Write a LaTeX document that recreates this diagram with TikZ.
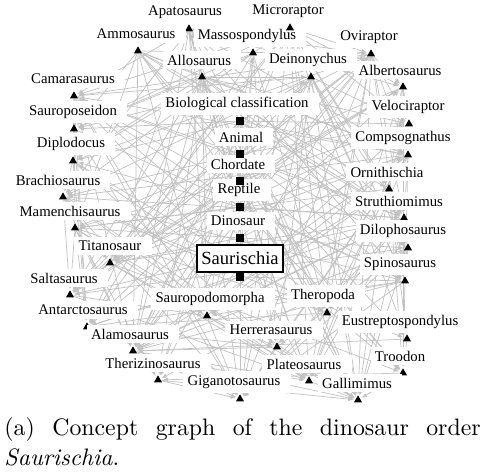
\documentclass[tikz,border=0pt]{standalone}
\usepackage{fontspec}
\newfontfamily\graphfont{Liberation Serif}
\usetikzlibrary{shapes.geometric, arrows.meta, backgrounds}

\tikzset{
  concept/.style={rectangle, fill=black, inner sep=0pt, minimum size=3.2pt},
  species/.style={regular polygon, regular polygon sides=3, fill=black, inner sep=0pt, minimum size=3.9pt},
  link/.style={draw=black!24, line width=0.3pt, shorten >=0.6pt, -{Latex[length=2.2pt,width=1.8pt]}},
  tag/.style={fill=white, inner xsep=1.8pt, inner ysep=1.7pt, font=\graphfont\fontsize{6.2}{7}\selectfont},
  rootbox/.style={tag, draw=black, line width=0.5pt, font=\graphfont\fontsize{7.8}{9}\selectfont, minimum width=36pt, minimum height=11.3pt}
}

% index/label/marker x/marker y/label x (pixel grid, y downwards)
\def\conceptlist{1/Biological classification/240/121/237, 2/Animal/240/154/241,
  3/Chordate/240/181/238, 4/Reptile/240/207/239, 5/Dinosaur/240/238/238,
  6/Saurischia/240/277/240, 7/Apatosaurus/189/29/185, 8/Massospondylus/253/53/247,
  9/Ammosaurus/138/51/136, 10/Microraptor/290/28/288, 11/Oviraptor/371/54/369,
  12/Allosaurus/202/77/199, 13/Deinonychus/311/77/308, 14/Albertosaurus/403/87/400,
  15/Camarasaurus/74/96/73, 16/Velociraptor/409/124/408, 17/Sauroposeidon/74/129/73,
  18/Compsognathus/408/155/403, 19/Diplodocus/73/161/71, 20/Ornithischia/389/189/387,
  21/Brachiosaurus/63/197/58, 22/Struthiomimus/404/218/399, 23/Mamenchisaurus/75/228/70,
  24/Dilophosaurus/408/248/403, 25/Titanosaur/110/263/110, 26/Spinosaurus/405/281/400,
  27/Saltasaurus/70/295/64, 28/Theropoda/327/313/323, 29/Sauropodomorpha/207/316/210,
  30/Antarctosaurus/87/327/83, 31/Eustreptospondylus/407/339/400, 32/Herrerasaurus/277/347/271,
  33/Alamosaurus/133/351/130, 34/Troodon/403/373/400, 35/Therizinosaurus/158/380/153,
  36/Plateosaurus/309/381/304, 37/Giganotosaurus/240/399/234, 38/Gallimimus/358/400/357}

\begin{document}
\begin{tikzpicture}[x=0.42pt, y=-0.42pt]
  \useasboundingbox (0,0) rectangle (482,471);

  % Labels and species markers, one after the other
  \foreach \i/\txt/\mx/\my/\lx in \conceptlist {
    \ifnum\i=6
      \node[rootbox] (l\i) at (\lx,\my-18.5) {\txt};
    \else
      \node[tag] (l\i) at (\lx+3,\my-17) {\txt\kern2.5pt};
    \fi
    \ifnum\i>6
      \node[species] (m\i) at (\mx,\my) {};
    \fi
  }
  % Classification markers on top
  \foreach \i/\txt/\mx/\my/\lx in \conceptlist {
    \ifnum\i<7 \node[concept] (m\i) at (\mx,\my) {}; \fi
  }

  % Links (behind everything)
  \begin{pgfonlayer}{background}
    \foreach \i in {1,...,38} {
      \foreach \j in {1,...,38} {
        \ifnum\i<\j
          \pgfmathtruncatemacro\pick{mod(3*\i*\i+5*\j*\j+\i*\j,11)}
          \ifnum\pick<5 \draw[link] (m\i) -- (m\j); \fi
        \fi
      }
    }
    \foreach \i [evaluate=\i as \k using int(\i+1)] in {1,...,5}
      \draw[link] (m\i) -- (m\k);
  \end{pgfonlayer}

  % Caption
  \node[anchor=north west, text width=200pt, align=justify, inner sep=0pt,
        font=\fontsize{10}{12.5}\selectfont] (cap) at (4,417)
    {(a) Concept graph of the dinosaur order\linebreak \emph{Saurischia}.};
\end{tikzpicture}
\end{document}
